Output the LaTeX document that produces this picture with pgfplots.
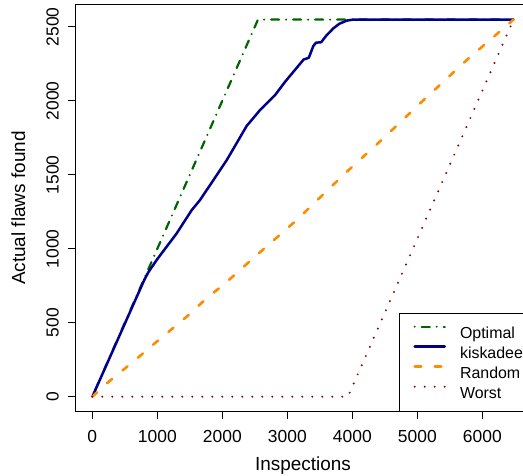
\documentclass[border=0pt]{standalone}
\usepackage{fontspec}
\setmainfont{Liberation Sans}
\usepackage{pgfplots}
\pgfplotsset{compat=1.18}
\definecolor{optgreen}{HTML}{006400}
\definecolor{kisblue}{HTML}{00008B}
\definecolor{rndorange}{HTML}{FF8C00}
\definecolor{wstred}{HTML}{8B0000}
\begin{document}
\begin{tikzpicture}[x=1bp,y=1bp]
\useasboundingbox (0,0) rectangle (523,-476);
\begin{axis}[
  at={(75.5bp,-411.8bp)}, anchor=south west,
  scale only axis, width=454.9bp, height=407.3bp,
  xmin=-259, xmax=6739, ymin=-102, ymax=2650,
  xtick={0,1000,...,6000}, ytick={0,500,...,2500},
  tick align=outside, xtick pos=bottom, ytick pos=left,
  major tick length=7.5bp,
  tick style={black, line width=0.8bp},
  axis line style={black, line width=0.8bp},
  scaled ticks=false,
  /pgf/number format/assume math mode=true,
  /pgf/number format/1000 sep={},
  ticklabel style={font=\fontsize{17.5}{20}\selectfont},
  xticklabel style={anchor=north, inner sep=0pt},
  yticklabel style={rotate=90, anchor=base, inner sep=0pt},
  xticklabel shift=11bp, yticklabel shift=9.5bp,
  xlabel={Inspections}, ylabel={Actual flaws found},
  every axis x label/.style={at={(axis description cs:0.5,-0.145)}, anchor=base, font=\fontsize{19}{22}\selectfont},
  every axis y label/.style={at={(axis description cs:-0.111,0.5)}, rotate=90, anchor=base, font=\fontsize{19}{22}\selectfont},
  legend style={at={(axis description cs:0.7112,0)}, anchor=south west, draw=black, line width=0.8bp,
    inner xsep=14bp, inner ysep=9.25bp, font=\fontsize{16}{19}\selectfont,
    nodes={inner sep=0pt, text height=16.5bp, text depth=3.5bp},
    column sep=14bp},
  legend cell align=left,
  legend image code/.code={\draw[#1, line cap=round] (0bp,5.5bp) -- (30bp,5.5bp);},
]
\addplot[optgreen, line width=2.2bp, line cap=round, dash pattern=on 0bp off 7bp on 8bp off 7bp] coordinates {(0,0) (2548,2548) (6480,2548)};
\addlegendentry{Optimal}
\addplot[kisblue, line width=2.5bp, line join=round] coordinates {
(0,0) (800,790) (860,840) (990,924) (1298,1104) (1529,1261) (1657,1329) (2068,1599) (2375,1830) (2477,1883) (2580,1937) (2785,2027) (2811,2038) (2965,2128) (3250,2278) (3330,2290) (3400,2370) (3440,2392) (3520,2395) (3600,2440) (3708,2489) (3800,2520) (3914,2541) (4015,2548) (6480,2548)};
\addlegendentry{kiskadee}
\addplot[rndorange, line width=2.6bp, line cap=round, dash pattern=on 6.5bp off 13.5bp] coordinates {
(0,0) (221,90) (631,237) (990,372) (1452,541) (1785,676) (2015,755) (2529,957) (3145,1194) (3888,1509) (4477,1746) (5042,1982) (5760,2275) (6480,2548)};
\addlegendentry{Random}
\addplot[wstred, line width=2.2bp, line cap=round, dash pattern=on 0bp off 10bp] coordinates {(0,0) (3932,0) (6480,2548)};
\addlegendentry{Worst}
\end{axis}
\end{tikzpicture}
\end{document}
